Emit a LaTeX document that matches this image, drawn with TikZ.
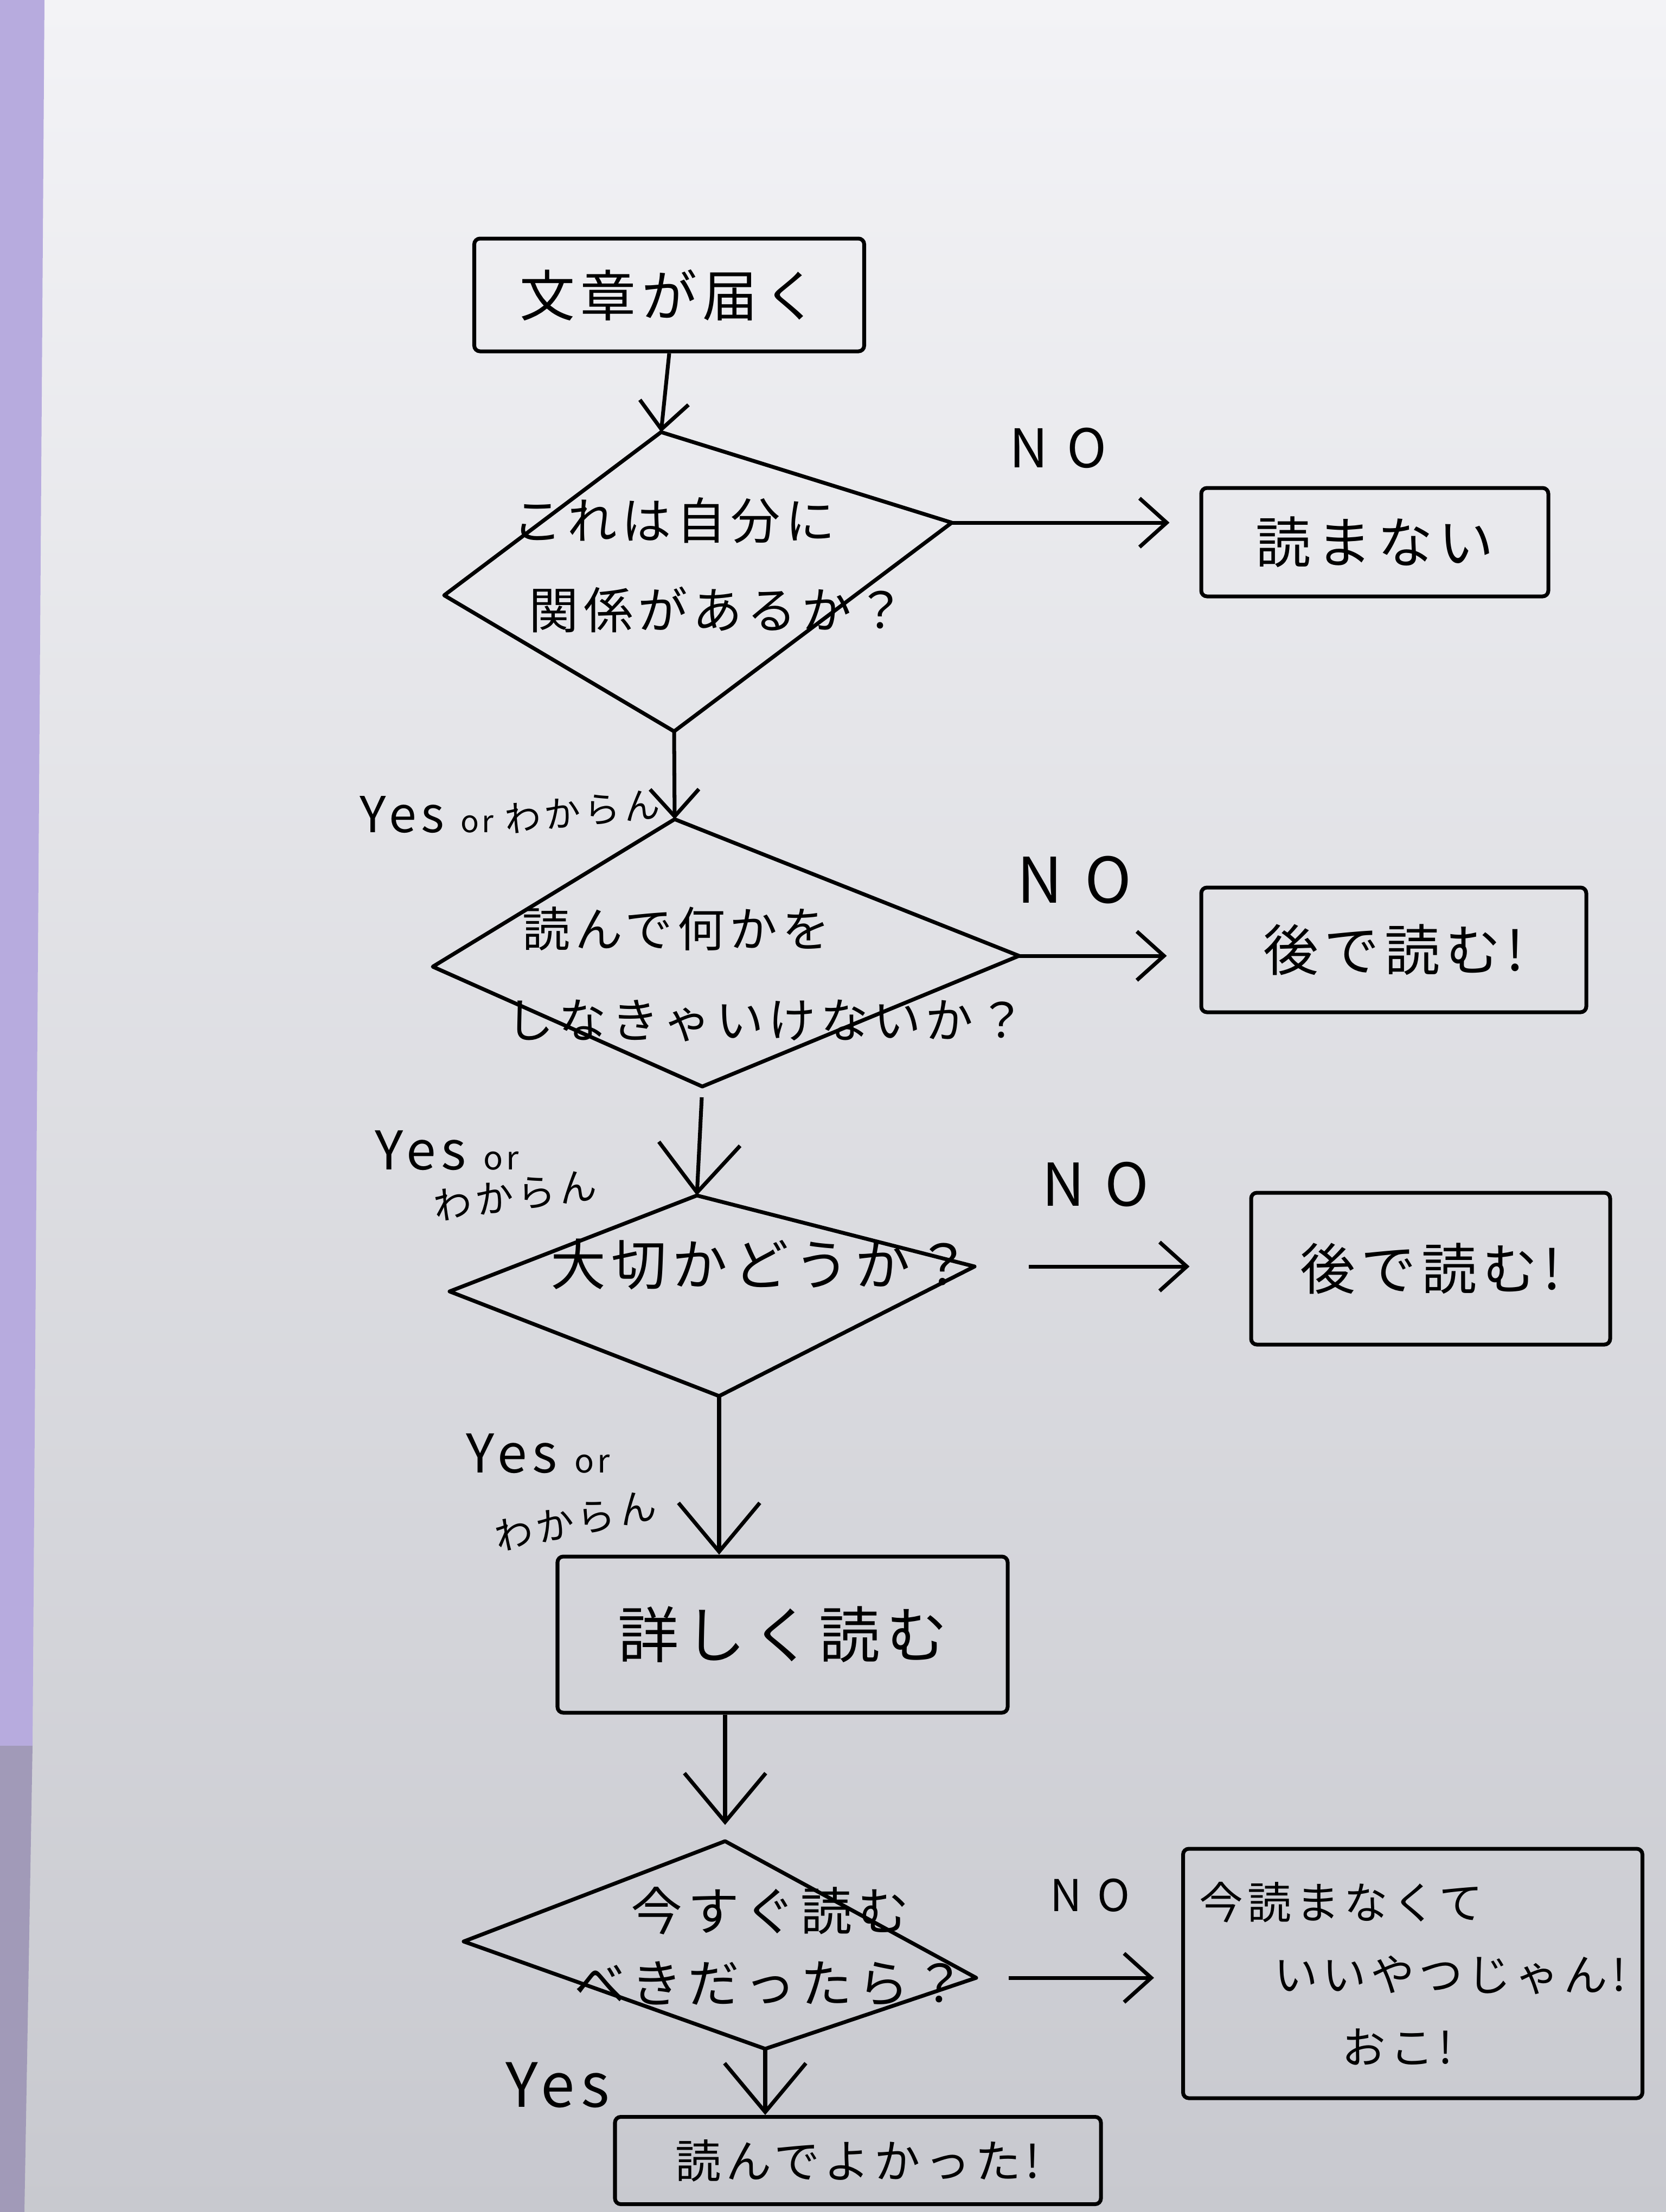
\documentclass[tikz,border=0pt]{standalone}
\usepackage{fontspec}
\setmainfont[LetterSpace=10]{Noto Sans CJK JP}
\usetikzlibrary{arrows.meta}
\definecolor{paper}{RGB}{243,243,246}
\definecolor{papershade}{RGB}{200,201,207}
\definecolor{lavender}{RGB}{183,171,222}

\begin{document}
\begin{tikzpicture}
        [box/.style={draw, line width=2pt, rounded corners=3pt, inner sep=0pt},
        decision/.style={draw, line width=2pt, line join=round},
        flow/.style={line width=2pt, -{Straight Barb[length=5mm, width=9mm]}},
        bigflow/.style={line width=2pt, -{Straight Barb[length=9mm, width=15mm]}},
        answer/.style={inner sep=0pt},
        nolabel/.style={inner sep=0pt, font=\addfontfeatures{LetterSpace=35}},
        txt/.style={inner sep=0pt, align=left}]

        % paper
        \useasboundingbox (0,0) rectangle (30.72,-40.80);
        \shade[top color=paper, bottom color=papershade] (0,0) rectangle (30.72,-40.80);
        \fill[lavender] (0,0) -- (0.82,0) -- (0.6,-32.2) -- (0,-32.2) -- cycle;
        \fill[lavender!60!gray] (0,-32.2) -- (0.6,-32.2) -- (0.45,-40.8) -- (0,-40.8) -- cycle;

        % boxes
        \node[box, minimum width=7.19cm, minimum height=2.08cm, font=\fontsize{29}{35}\selectfont] (start) at (12.34,-5.44) {文章が届く};
        \node[box, minimum width=6.4cm, minimum height=2.0cm, font=\fontsize{29}{35}\selectfont] (no1) at (25.35,-10.0) {読まない};
        \node[box, minimum width=7.1cm, minimum height=2.3cm, font=\fontsize{29}{35}\selectfont] (no2) at (25.70,-17.52) {後で読む!};
        \node[box, minimum width=6.62cm, minimum height=2.8cm, font=\fontsize{29}{35}\selectfont] (no3) at (26.38,-23.40) {後で読む!};
        \node[box, minimum width=8.3cm, minimum height=2.88cm, font=\fontsize{32}{38}\selectfont] (detail) at (14.43,-30.15) {詳しく読む};
        \node[box, minimum width=8.47cm, minimum height=4.6cm, align=left, font=\fontsize{23}{38}\selectfont] (no4) at (26.05,-36.40)
            {今読まなくて\\\hspace*{1.38cm}いいやつじゃん!\\\hspace*{2.63cm}おこ!};
        \node[box, minimum width=8.96cm, minimum height=1.61cm, font=\fontsize{24}{30}\selectfont] (final) at (15.82,-39.85) {読んでよかった!};

        % decisions
        \coordinate (q1n) at (12.19,-7.97);
        \coordinate (q1e) at (17.55,-9.64);
        \coordinate (q1s) at (12.43,-13.49);
        \coordinate (q1w) at (8.19,-10.98);
        \coordinate (q2n) at (12.44,-15.11);
        \coordinate (q2e) at (18.79,-17.63);
        \coordinate (q2s) at (12.95,-20.04);
        \coordinate (q2w) at (7.98,-17.83);
        \coordinate (q3n) at (12.85,-22.05);
        \coordinate (q3e) at (17.97,-23.36);
        \coordinate (q3s) at (13.26,-25.75);
        \coordinate (q3w) at (8.29,-23.82);
        \coordinate (q4n) at (13.37,-33.96);
        \coordinate (q4e) at (18.0,-36.48);
        \coordinate (q4s) at (14.11,-37.79);
        \coordinate (q4w) at (8.55,-35.81);

        \draw[decision] (q1n) -- (q1e) -- (q1s) -- (q1w) -- cycle;
        \draw[decision] (q2n) -- (q2e) -- (q2s) -- (q2w) -- cycle;
        \draw[decision] (q3n) -- (q3e) -- (q3s) -- (q3w) -- cycle;
        \draw[decision] (q4n) -- (q4e) -- (q4s) -- (q4w) -- cycle;

        \node[txt, anchor=west, font=\fontsize{26}{47}\selectfont] (q1txt) at (9.45,-10.42) {これは自分に\\\hspace*{0.3cm}関係があるか？};
        \node[txt, anchor=west, font=\fontsize{25}{48}\selectfont] (q2txt) at (9.33,-17.97) {\hspace*{0.3cm}読んで何かを\\しなきゃいけないか？};
        \node[txt, font=\fontsize{29}{35}\selectfont] (q3txt) at (14.03,-23.32) {大切かどうか？};
        \node[txt, align=center, font=\fontsize{27}{38}\selectfont] (q4txt) at (14.2,-35.9) {今すぐ読む\\べきだったら？};

        % Yes / NO labels
        \node[answer, anchor=west, font=\fontsize{26}{32}\selectfont] (yes1) at (6.63,-15.03) {Yes {\fontsize{16}{16}\selectfont or}};
        \node[answer, anchor=west, rotate=6, font=\fontsize{19}{23}\selectfont] (wk1) at (9.3,-15.12) {わからん};
        \node[answer, anchor=west, font=\fontsize{28}{34}\selectfont] (yes2) at (6.91,-21.22) {Yes {\fontsize{17}{17}\selectfont or}};
        \node[answer, rotate=8, font=\fontsize{20}{24}\selectfont] (wk2) at (9.50,-22.05) {わからん};
        \node[answer, anchor=west, font=\fontsize{28}{34}\selectfont] (yes3) at (8.59,-26.81) {Yes {\fontsize{17}{17}\selectfont or}};
        \node[answer, rotate=12, font=\fontsize{20}{24}\selectfont] (wk3) at (10.61,-28.05) {わからん};
        \node[answer, font=\fontsize{32}{38}\selectfont] (yes4) at (10.28,-38.46) {Yes};

        \node[nolabel] (nolab1) at (19.51,-8.26) {\fontsize{28}{32}\selectfont NO};
        \node[nolabel] (nolab2) at (19.81,-16.23) {\fontsize{33}{36}\selectfont NO};
        \node[nolabel] (nolab3) at (20.20,-21.85) {\fontsize{31}{34}\selectfont NO};
        \node[nolabel] (nolab4) at (20.10,-34.96) {\fontsize{23}{26}\selectfont NO};

        % main flow
        \draw[flow] (start.south) -- (q1n);
        \draw[flow] (q1s) -- (q2n);
        \draw[bigflow, shorten <=2mm] (q2s) -- (q3n);
        \draw[bigflow] (q3s) -- (q3s |- detail.north);
        \draw[bigflow, shorten >=3mm] (q4n |- detail.south) -- (q4n);
        \draw[bigflow] (q4s) -- (q4s |- final.north);

        % NO branches
        \draw[flow, shorten >=5.5mm] (q1e) -- (q1e -| no1.west);
        \draw[flow, shorten >=6mm] (q2e) -- (q2e -| no2.west);
        \draw[flow, shorten <=10mm, shorten >=11mm] (q3e) -- (q3e -| no3.west);
        \draw[flow, shorten <=6mm, shorten >=5mm] (q4e) -- (q4e -| no4.west);

    \end{tikzpicture}
\end{document}
